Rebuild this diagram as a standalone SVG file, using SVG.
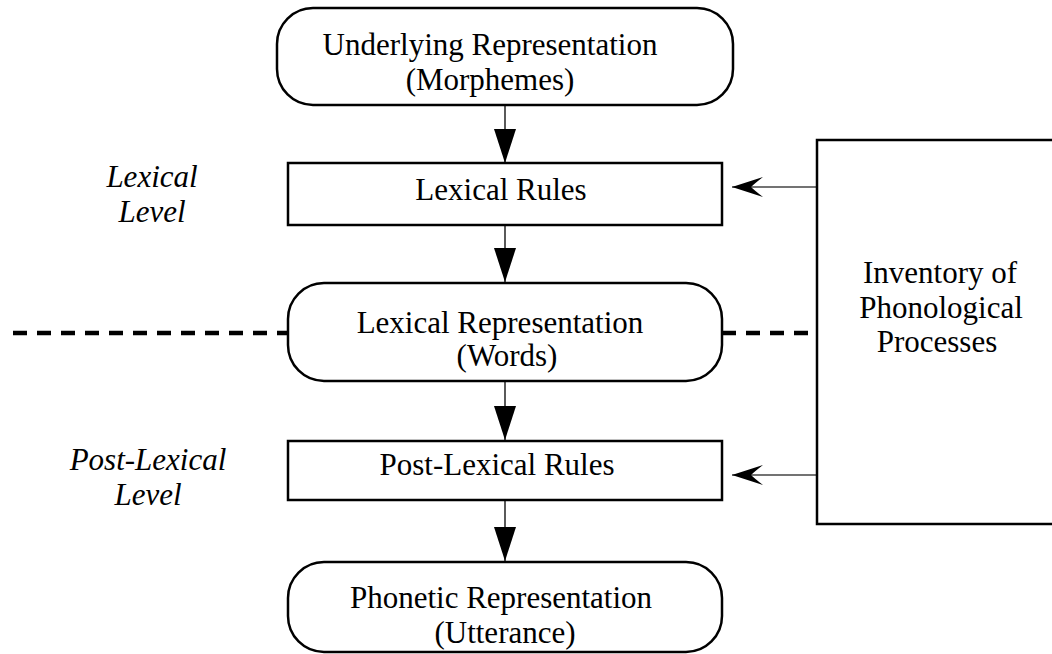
<svg xmlns="http://www.w3.org/2000/svg" width="1052" height="654" viewBox="0 0 1052 654">
<defs>
<style>
.box{fill:#fff;stroke:#000;stroke-width:2.5}
.t{font-family:"Liberation Serif","Times New Roman",serif;font-size:31px;fill:#000;text-anchor:middle}
.it{font-style:italic}
.ln{stroke:#000;stroke-width:1.3;fill:none}
.gl{stroke:#444;stroke-width:1.3;fill:none}
.dash{stroke:#000;stroke-width:4.5;stroke-dasharray:14 10;fill:none}
</style>
<marker id="tri" markerUnits="userSpaceOnUse" markerWidth="24" markerHeight="34" viewBox="0 0 24 34" refX="12" refY="34" orient="0">
<path d="M1,0 L23,0 L12,34 Z" fill="#000"/>
</marker>
<marker id="barb" markerUnits="userSpaceOnUse" markerWidth="32" markerHeight="22" viewBox="0 0 32 22" refX="0" refY="11" orient="0">
<path d="M0,11 L31,1 Q22,8 19,11 Q22,14 31,21 Z" fill="#000"/>
</marker>
</defs>
<g id="connectors">
<line class="dash" x1="13" y1="333" x2="288" y2="333"/>
<line class="dash" x1="722" y1="333" x2="810" y2="333"/>
<line class="ln" x1="505" y1="105" x2="505" y2="163" marker-end="url(#tri)"/>
<line class="ln" x1="505" y1="225" x2="505" y2="282" marker-end="url(#tri)"/>
<line class="ln" x1="505" y1="381" x2="505" y2="440" marker-end="url(#tri)"/>
<line class="ln" x1="505" y1="500" x2="505" y2="561" marker-end="url(#tri)"/>
<line class="gl" x1="817" y1="187" x2="732" y2="187" marker-end="url(#barb)"/>
<line class="gl" x1="817" y1="475" x2="732" y2="475" marker-end="url(#barb)"/>
</g>
<g id="underlying">
<rect class="box" x="277" y="8" width="456" height="97" rx="36" ry="36"/>
<text class="t" x="490" y="55">Underlying Representation</text>
<text class="t" x="490" y="90">(Morphemes)</text>
</g>
<g id="lexical-rules">
<rect class="box" x="288" y="163" width="434" height="62"/>
<text class="t" x="501" y="200">Lexical Rules</text>
</g>
<g id="lexical-representation">
<rect class="box" x="288" y="283" width="434" height="98" rx="36" ry="36"/>
<text class="t" x="500" y="333">Lexical Representation</text>
<text class="t" x="507" y="366">(Words)</text>
</g>
<g id="post-lexical-rules">
<rect class="box" x="288" y="441" width="434" height="59"/>
<text class="t" x="497" y="475">Post-Lexical Rules</text>
</g>
<g id="phonetic">
<rect class="box" x="288" y="562" width="434" height="90" rx="36" ry="36"/>
<text class="t" x="501" y="608">Phonetic Representation</text>
<text class="t" x="505" y="643">(Utterance)</text>
</g>
<g id="inventory">
<rect class="box" x="817" y="140" width="250" height="384"/>
<text class="t" x="940" y="283">Inventory of</text>
<text class="t" x="941" y="318">Phonological</text>
<text class="t" x="937" y="352">Processes</text>
</g>
<g id="lexical-level">
<text class="t it" x="152" y="187">Lexical</text>
<text class="t it" x="152" y="222">Level</text>
</g>
<g id="post-lexical-level">
<text class="t it" x="148" y="470">Post-Lexical</text>
<text class="t it" x="148" y="505">Level</text>
</g>
</svg>
